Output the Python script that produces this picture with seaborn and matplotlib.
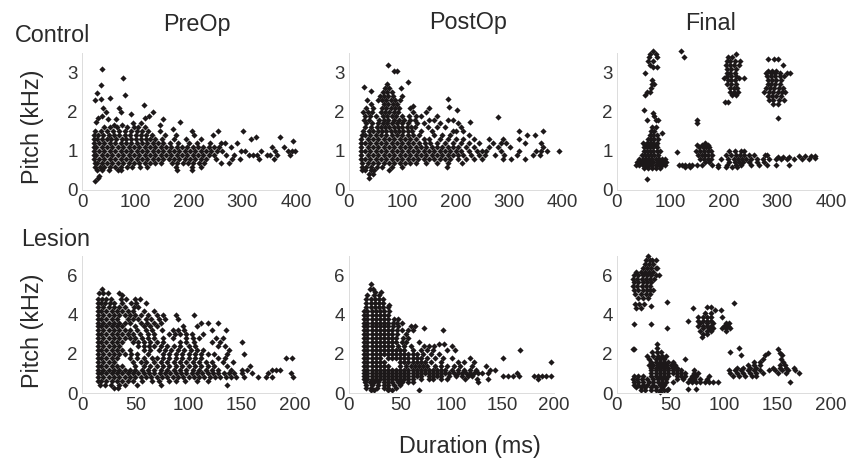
import matplotlib
matplotlib.use("Agg")
import matplotlib.pyplot as plt
import pandas as pd
import seaborn as sns

# each row: (pitch kHz, duration ms, duration ms, ...)
control_preop = [
 (3.08,38),(2.87,76),(2.67,35),(2.47,28),(2.42,80),(2.36,52),(2.32,35),(2.3,25),(2.17,115),
 (2.1,40,70),(2.0,45,72,133),(1.93,92),(1.9,38,125),(1.85,30,118),(1.82,152,63,48),(1.75,183,27),
 (1.72,95,110),(1.65,60,75,145),(1.6,42,53,66,85,97,104,118),(1.55,170),
 (1.5,24,36,47,58,70,80,92,103,112,124,146,205,255,300),
 (1.4,23,30,40,50,60,70,80,90,100,110,120,130,155,175,210,245),
 (1.35,325,370),
 (1.3,23,28,37,46,55,64,74,83,92,101,110,119,128,137,150,172,195,222,315),
 (1.25,395),
 (1.2,22,32,42,52,62,72,82,92,102,112,122,132,142,152,165,180,200,215,240,260,268,290),
 (1.1,22,27,37,47,57,67,77,87,97,107,117,127,137,147,157,167,177,187,197,207,217,227,237,247,257,278,355,378),
 (1.0,22,32,42,52,62,72,82,92,102,112,122,132,142,152,162,172,182,192,202,212,222,232,242,252,262,298,305,335,360,385,392,398),
 (0.9,22,27,37,47,57,67,77,87,97,107,117,127,137,147,157,167,177,187,197,207,217,227,237,247,270,285,312,320,328,345,352,365,388),
 (0.8,23,32,42,52,62,72,82,92,102,112,122,132,142,152,162,172,182,192,202,212,222,232,250,280,295,330,358),
 (0.7,24,28,37,47,57,67,77,87,97,107,117,127,137,147,168,178,188,198,208,218,228,260,275),
 (0.6,25,33,42,52,62,72,84,94,108,122,175,205,222),
 (0.5,28,38,50,68,72,178,205),
 (0.35,32),(0.3,30),(0.22,24),
]
control_postop = [
 (3.2,73),(3.05,85,90),(2.77,110),(2.7,72),(2.63,28),(2.6,68,76,98),(2.52,42),(2.5,64,72,80),
 (2.4,58,66,74,82,100),(2.32,185),(2.3,33,55,62,70,78,86,96),(2.2,42,66,74,82,90),
 (2.15,120),(2.13,188),(2.1,32,46,62,70,78,86,94,115,150),(2.05,202),
 (2.0,26,36,44,60,68,76,84,92,120,145),(1.9,30,40,50,64,72,80,88,100,112,125,135,165),
 (1.87,280),(1.8,28,38,56,66,74,84,94,104,114,124,150,160,185,195),(1.75,228),
 (1.7,32,44,54,64,72,80,90,100,110,128,140,170,205),
 (1.6,30,42,52,60,68,76,84,92,100,108,116,124,148,165,180,210),
 (1.5,26,38,46,54,62,70,78,86,94,102,110,118,135,155,195,200,215,320,365),
 (1.4,24,30,40,50,60,70,80,90,100,110,120,132,160,175,190,225,335,350),
 (1.3,23,35,45,55,65,75,85,95,105,115,125,140,150,170,185,200,215,235,262,290,320),
 (1.2,22,30,40,50,60,70,80,90,100,110,120,132,142,152,165,180,195,210,225,245,270,285,295,330,360),
 (1.1,22,35,45,55,65,75,85,95,105,115,125,135,145,155,165,175,185,195,205,220,235,262,280,302,365),
 (1.0,22,30,40,50,60,70,80,90,100,110,120,130,140,150,160,170,180,190,200,210,225,240,250,258,285,320,352,360,372,395),
 (0.9,23,35,45,55,65,75,85,95,105,115,125,135,145,155,165,175,185,195,205,215,230,245,255,275,292,315,345,358),
 (0.8,23,30,40,50,60,70,80,90,100,110,120,130,140,150,160,170,180,190,205,220,235,250,290,305,330),
 (0.7,24,35,45,55,65,75,85,95,105,115,125,145,165,185,212),
 (0.6,25,32,42,52,62,80,100),(0.58,184),
 (0.5,25,30,42,47,75),(0.4,38,45),(0.3,38),
]
control_final = [
 (3.55,68,120),(3.48,62,72,222),(3.4,60,75,126,208,215),(3.35,283,293,300),
 (3.3,58,68,206,212,220,230),(3.2,62,204,212,218,228,310),
 (3.15,68,74),(3.1,206,214,222),(3.05,282,290,298),(3.0,52,206,212,220,278,288,296,305,318,323),
 (2.9,205,214,222,280,288,296,304,312),(2.85,200,228,238),
 (2.8,66,208,214,220,282,290,298,306),(2.7,65,70,206,214,222,282,288,296,304),
 (2.6,64,212,218,225,278,286,294,302,310),(2.5,56,62,212,218,226,274,284,292,300,308,314),
 (2.42,52,215,222),(2.4,282,290,298,306),(2.3,284,292,302,312),(2.25,202,208),(2.2,292,300),
 (2.05,50),(1.97,68),(1.85,300),(1.88,70),(1.8,72,150,56,76),(1.72,150),
 (1.6,66,72),(1.5,64,70),(1.45,85),(1.4,62,68,74),(1.3,58,64,70,76),(1.2,48,56,62,68,74,165),
 (1.15,52,60,66,72,150,158,170),(1.1,50,56,62,68,74,153,160,166,172),
 (1.0,50,56,62,68,74,80,148,155,162,170,176,210,220,232,238),(0.97,112),
 (0.9,46,52,58,64,70,76,152,158,164,170,178,204,214,222,230,238,246,256,276,280),
 (0.85,300,310,322),(0.88,340,352,362,370),
 (0.8,42,48,54,60,66,72,78,84,90,155,162,170,176,195,208,218,226,234,242,250,262,272,284,298,306,318,330,346,358),
 (0.82,370),
 (0.72,38,44,50,56,62,68,74,80,86,92,165,172,210,220,228,236,246,262,274),
 (0.65,35,42,48,54,60,66,72,78,84,90,115,122,128,134,140,150,158,178,188,205,222,232,250,265,280,298,322),
 (0.6,128,136,188,204,215,225),
 (0.55,50,58,66,72,80),(0.28,57),
]
lesion_preop = [
 (5.3,19),(5.1,16,20,24,35),(5.0,38),(4.8,15,19,23,27,37,41,50,54),(4.6,15,18,22,26,30,38,46,51,60),
 (4.4,15,20,25,30,35,40,49,53),(4.2,15,18,23,28,33,38,43,48,58,68),
 (4.0,15,20,25,30,35,40,45,50,55,62,70,76,88,105),(3.8,15,18,23,28,33,43,48,53,60,65,72,78,90),
 (3.6,15,20,25,30,35,40,45,55,61,68,74,112,118,128),(3.4,15,18,23,28,33,38,50,58,64,70,95,108),
 (3.2,15,20,25,30,35,40,45,52,60,66,75,85,90,96,122,135),
 (3.0,15,18,23,28,33,38,43,48,54,62,68,82,87,92,98,103,114),
 (2.8,15,20,25,30,35,40,45,50,56,62,68,76,85,98,104,110,126,132),
 (2.6,15,18,23,28,33,38,48,53,58,64,70,76,92,98,105,122,130,150),
 (2.4,15,20,25,30,35,53,58,63,68,74,80,86,92,100,106,128,134),
 (2.2,15,18,23,28,33,38,45,58,64,72,78,84,90,96,102,108,114,138),
 (2.0,15,20,25,30,35,40,46,52,62,76,82,88,94,100,106,112,118,124,136,152),
 (1.8,15,18,23,28,33,45,52,58,66,70,76,82,88,94,100,106,112,128,134,192,197),
 (1.6,15,20,25,30,48,55,60,68,74,80,86,92,98,104,110,116,122,132,142),
 (1.4,15,18,23,28,33,38,50,58,64,70,76,82,88,94,100,106,112,118,124,136,158),
 (1.2,15,20,25,30,35,40,45,50,56,62,68,74,80,86,92,98,104,110,116,122,128,140,150,155,178,182,186),
 (1.0,15,18,23,28,33,38,43,48,53,58,63,68,73,78,83,88,93,98,103,108,113,118,123,128,133,138,143,150,160,175,196),
 (0.8,15,20,25,30,35,40,45,50,55,60,65,70,75,80,85,90,95,100,105,110,115,120,125,130,135,140,145,152,165,173,178,198),
 (0.6,15,18,23,28,33,38,43,48,56,66,72,82,88,97,108,118),
 (0.4,17,22,27,35,40,52,74,136),(0.25,30,34),
]
lesion_postop = [
 (5.55,21),(5.3,20,23),(5.15,25,31),(5.0,18,24,29),(4.8,17,21,25,29,33),(4.6,17,21,25,29,33),
 (4.5,39),(4.4,17,21,25,29,33,38),(4.2,15,18,22,26,30,34,39),(4.0,15,18,22,26,30,34,38),
 (3.8,15,18,22,26,30,34,38,44,48),(3.6,15,18,22,26,30,34,38,43,47,52),
 (3.4,15,18,22,26,30,34,38,43,48,60,64),(3.3,73),(3.2,15,18,22,26,30,34,38,42,47,52,58,62,92),
 (3.0,15,18,22,26,30,34,38,42,47,56),(2.8,15,18,22,26,30,34,38,42,46,53,58),
 (2.6,15,18,22,26,30,34,38,42,46,52,56,68),(2.5,88,93),(2.4,15,18,22,26,30,34,38,42,48,54,60,73,78,83,100),
 (2.2,15,18,22,26,30,34,38,42,46,50,54,62,70,76,82,96,103,167),
 (2.0,15,18,22,26,30,34,38,42,46,50,54,58,62,66,72,80,88),
 (1.8,15,18,22,26,30,38,42,46,50,54,58,62,66,70,76,84,92,100,118,150),
 (1.6,15,18,22,26,30,34,50,54,58,62,66,70,74,80,90,106,112,122,197),
 (1.4,15,18,22,26,30,34,38,50,56,60,64,68,72,76,84,90,96,102,108,120,134),
 (1.2,15,18,22,26,30,34,38,42,46,50,54,58,62,66,70,74,78,82,86,90,94,100,106,112,118,124,138,142),
 (1.0,15,18,22,26,30,34,38,42,46,50,54,58,62,66,70,74,78,82,86,90,94,98,102,106,110,114,118,122,126,130,136,164),
 (0.85,15,18,22,26,30,34,38,42,46,50,54,58,62,66,70,78,82,86,90,98,104,110,116,120,150,155,160,166,180,184,188,192,197),
 (0.7,15,18,22,26,30,34,38,42,46,50,54,58,62,70,78,82,90,96,113,125,136,184),
 (0.55,16,20,24,28,34,38,42,48,52,58,62,126),(0.4,17,22,28,34,38,44,50),(0.25,17,21,27,34,38,46),(0.15,21,24,38,42,68),
]
lesion_final = [
 (7.0,29),(6.8,27,31,33,36),(6.6,26,30,34),(6.4,24,28,32,36,37),(6.2,18,22,26,30,34),
 (6.05,16,20,24,28,32,36,39),(5.85,15,19,23,27,31,35),(5.65,16,20,24,28,32),
 (5.45,15,19,23,27,31),(5.25,16,20,24,28,31,34),(5.05,17,22,27,31),(4.85,20,24,29),
 (4.65,47),(4.55,17,21,25),(4.45,32),(4.35,18,22,71),(4.58,109),(4.4,84,88),(4.25,92,97),
 (4.1,82,88),(3.9,76,80,84,88,98),(3.7,76,80,84,88,66),(3.6,78,84,90,102,105),(3.55,16,32),
 (3.4,76,80,84,88,100,104),(3.3,47,80,86,90,98,102,106),(3.15,78,84,88,102),(3.0,80,84),(2.85,79),
 (2.5,37),(2.3,37,114),(2.25,15,16),(2.25,150),(2.1,33,37,41,106),(2.05,141,152),(1.95,116,138,154),
 (1.9,28,34,38,42,46),(1.75,30,36,40,44,64,136,153),(1.6,32,36,40,44,48,52,128,134,155),
 (1.45,30,34,38,42,46,50,54,122,128,134,152,157),(1.3,32,36,40,44,48,52,56,112,118,124,130,146,152,158,165),
 (1.15,32,36,40,44,48,52,56,60,72,105,110,116,122,128,134,142,148,154,160,166),
 (1.0,32,36,40,44,48,52,56,60,64,72,76,106,112,118,124,130,136,150,158,170),
 (0.88,16,20,24,32,36,40,44,48,56,60,64,70,74,86,108,114,120,126,130),
 (0.72,15,19,23,28,34,38,42,46,56,62,68,72,78,84),
 (0.58,16,20,24,30,34,38,42,46,52,66,70,74,78,82,86,90,94,162),
 (0.42,16,20,24,28,34,40,44),(0.3,18,22,26,32,36,42),(0.22,66,74,48),(0.15,22,26,32,36,40,44,47),(0.05,40),
]

titles = ["PreOp", "PostOp", "Final"]
tick_sets = {"control": [0, 100, 200, 300, 400], "lesion": [0, 50, 100, 150, 200]}

def frame(rows):
    return pd.DataFrame(
        [(x, r[0]) for r in rows for x in r[1:]], columns=["duration", "pitch"]
    )

sns.set_style("white")
plt.rcParams["font.family"] = ["Liberation Sans", "DejaVu Sans"]
W, H = 849, 466
INK, TXT, AX = "#1c1819", "#333333", "#dcdcdc"
fig = plt.figure(figsize=(W / 100, H / 100), dpi=100)

def panel(x0, x1, top, bot, rows, xticks, ylim, yticks):
    ax = fig.add_axes([x0 / W, 1 - bot / H, (x1 - x0) / W, (bot - top) / H])
    sns.scatterplot(data=frame(rows), x="duration", y="pitch", marker="D", s=10,
                    color=INK, linewidth=0, ax=ax, clip_on=False, legend=False)
    ax.set_xlim(0, xticks[-1])
    ax.set_ylim(0, ylim)
    ax.set_xticks(xticks)
    ax.set_yticks(yticks)
    ax.tick_params(axis="both", length=2, width=0.6, color=AX, labelsize=13.5,
                   labelcolor=TXT, pad=1)
    ax.set_xlabel("")
    ax.set_ylabel("")
    sns.despine(ax=ax)
    for s in ("left", "bottom"):
        ax.spines[s].set_color(AX)
        ax.spines[s].set_linewidth(0.7)
    return ax

cols = [(82, 296), (349, 562), (617, 831)]
cols2 = [(82, 295), (349, 554), (617, 831)]
for (a, b), rows in zip(cols, [control_preop, control_postop, control_final]):
    panel(a, b, 53, 190, rows, tick_sets["control"], 3.5, [0, 1, 2, 3])
for (a, b), rows in zip(cols2, [lesion_preop, lesion_postop, lesion_final]):
    panel(a, b, 256, 393, rows, tick_sets["lesion"], 7, [0, 2, 4, 6])

def label(px, py, s, **kw):
    fig.text(px / W, 1 - py / H, s, fontsize=16.8, color="#2a2a2a", ha="center", va="center", **kw)

label(197, 24, titles[0])
label(468, 22, titles[1])
label(711, 23, titles[2])
label(53, 36, "Control")
label(56, 239, "Lesion")
label(33, 127, "Pitch (kHz)", rotation=90)
label(33, 331, "Pitch (kHz)", rotation=90)
label(470, 447, "Duration (ms)")
fig.savefig("out.png", dpi=100)
